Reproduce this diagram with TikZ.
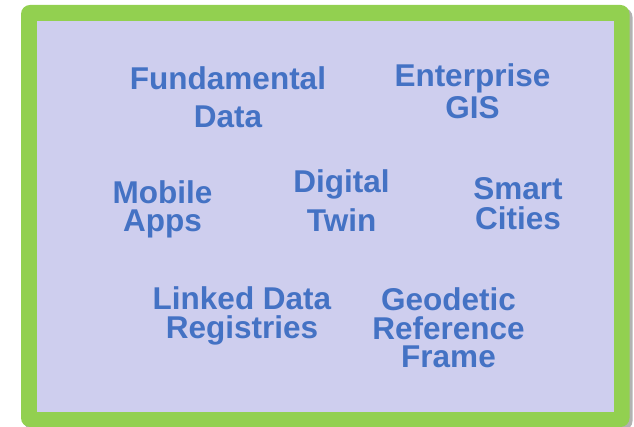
\documentclass[tikz,border=0pt]{standalone}
\usepackage{fontspec}
\setmainfont{Liberation Sans}
\usepackage{tikz}
\definecolor{framegreen}{HTML}{92D050}
\definecolor{panelblue}{HTML}{CECEEE}
\definecolor{termblue}{HTML}{4472C4}

\begin{document}
\begin{tikzpicture}[x=1pt,y=-1pt,font=\fontsize{31.5}{28.4}\selectfont\bfseries]
            \tikzstyle{term node}=[text=termblue,align=center,anchor=base,inner sep=0]
            \tikzstyle{frame box}=[fill=framegreen,rounded corners=9pt]
            \useasboundingbox (0,0) rectangle (634,427);
            \fill[gray!60,rounded corners=9pt] (24,8) rectangle (632.5,430);
            \fill[frame box] (21,5) rectangle (629.5,427);
            \fill[panelblue] (37,21) rectangle (614,412);
            \node(fund)[term node] at (228,127.7){Fundamental\\[10pt]Data};
            \node(ent)[term node] at (472.4,118.3){Enterprise\\[2.2pt]GIS};
            \node(mob)[term node] at (162.5,231.7){Mobile\\Apps};
            \node(dig)[term node] at (341.6,231.7){Digital\\[9pt]Twin};
            \node(smart)[term node] at (518,230){Smart\\[2.3pt]Cities};
            \node(link)[term node] at (242,338.3){Linked Data\\[0.6pt]Registries};
            \node(geo)[term node] at (448.5,367.7){Geodetic\\Reference\\Frame};
\end{tikzpicture}
\end{document}
